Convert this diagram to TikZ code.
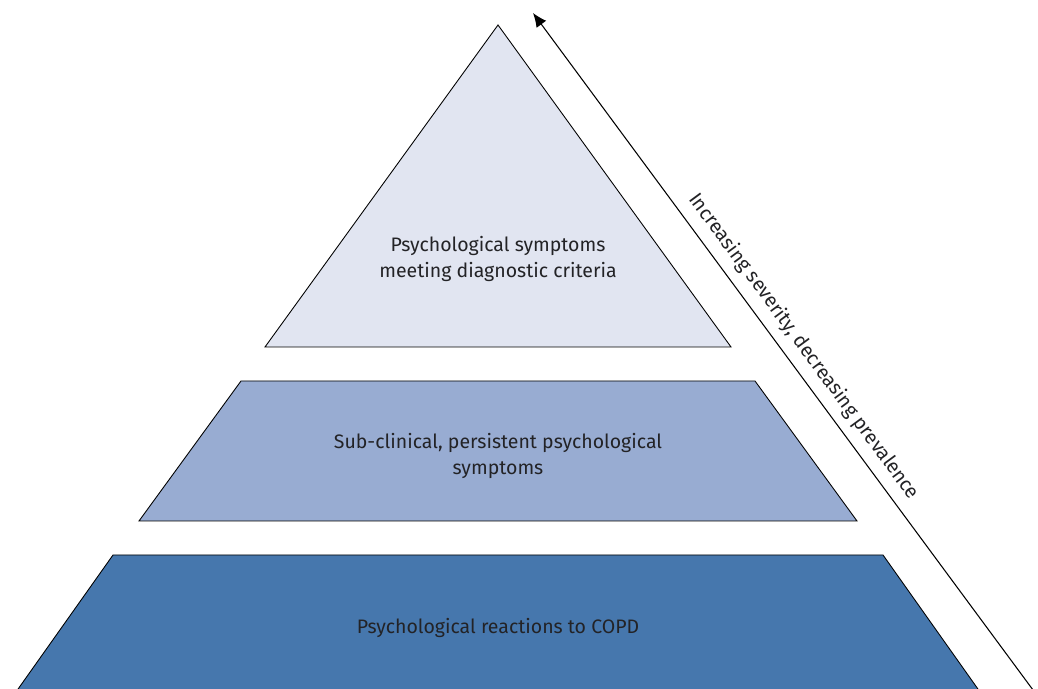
\documentclass[tikz,border=0pt]{standalone}
\usepackage{fontspec}
\setmainfont{Fira Sans}
\usepackage{xcolor}
\usepackage{tikz}
\usetikzlibrary{arrows.meta,positioning,calc}
\definecolor{tierlight}{RGB}{225,229,241}
\definecolor{tiermid}{RGB}{152,172,210}
\definecolor{tierdark}{RGB}{70,119,173}
\definecolor{labelgray}{RGB}{35,35,38}
\tikzset{
  % --- Pyramid tiers --------------------------------------------------------
  tier/.style={draw=black, line width=0.5pt, line join=miter},
  tierlabel/.style={
    align=center, text=labelgray, font=\fontsize{11.1}{14.8}\selectfont,
    inner sep=0pt
  },
  % --- Severity arrow -------------------------------------------------------
  severityarrow/.style={-{Latex[length=2.8mm,width=2.4mm]}, draw=black, line width=0.6pt},
  sidelabel/.style={font=\fontsize{11.2}{13}\selectfont, text=labelgray, inner sep=0pt},
}

\begin{document}
\begin{tikzpicture}
    \useasboundingbox (0,0) rectangle (20.76,13.78);
    \clip (0,0) rectangle (20.76,13.78);

    % tiers, top to bottom
    \draw[tier, fill=tierlight] (9.96,13.28) -- (14.62,6.84) -- (5.30,6.84) -- cycle;
    \draw[tier, fill=tiermid] (4.82,6.16) -- (15.10,6.16) -- (17.14,3.36) -- (2.78,3.36) -- cycle;
    \draw[tier, fill=tierdark] (2.26,2.68) -- (17.66,2.68) -- (19.70,-0.20) -- (0.22,-0.20) -- cycle;

    \node[tierlabel] (diagnostic) at (9.96,8.60) {Psychological symptoms\\meeting diagnostic criteria};
    \node[tierlabel] (subclinical) at (9.96,4.66) {Sub-clinical, persistent psychological\\symptoms};
    \node[tierlabel] (reactions) at (9.96,1.22) {Psychological reactions to COPD};

    % severity arrow with its label
    \coordinate (arrowstart) at (20.66,-0.02);
    \coordinate (arrowend) at (10.66,13.52);
    \draw[severityarrow] (arrowstart) -- (arrowend);
    \node[sidelabel, anchor=south, rotate=-53.6] (severity)
      at ($(arrowstart)!0.49!(arrowend) + (36.4:0.19)$)
      {Increasing severity, decreasing prevalence};
  \end{tikzpicture}
\end{document}
